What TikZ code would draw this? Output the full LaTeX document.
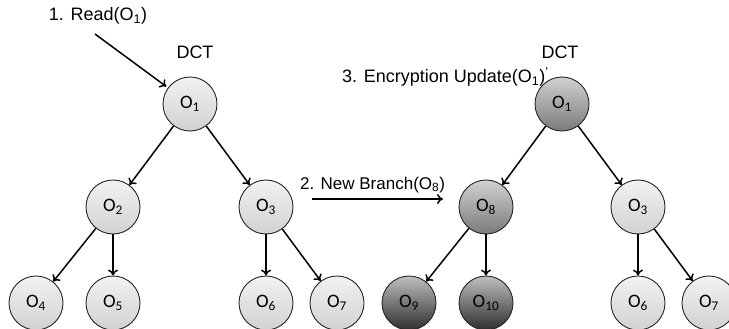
\documentclass[tikz,border=0pt]{standalone}
\usepackage{fontspec}
\setmainfont{Liberation Sans}
\newfontfamily\nodefont{Carlito}
\usetikzlibrary{arrows.meta}
\tikzset{
  obj/.style={circle, draw=black!85, line width=0.9pt, minimum size=54pt, inner sep=0pt,
    font=\nodefont\fontsize{19}{19}\selectfont},
  plain/.style={obj, top color=black!5, bottom color=black!18},
  updated/.style={obj, top color=black!18, bottom color=black!52},
  fresh/.style={obj, top color=black!25, bottom color=black!82},
  link/.style={line width=1.5pt, -{To[length=6pt,width=10pt,line width=1.5pt]}},
  caption/.style={font=\fontsize{18}{18}\selectfont, inner sep=0pt},
}
\begin{document}
\begin{tikzpicture}[x=1pt,y=-1pt]
\useasboundingbox (0,0) rectangle (729,329);

% original tree
\node[plain] (a1) at (190,104) {O\textsubscript{1}};
\node[plain] (a2) at (113,207) {O\textsubscript{2}};
\node[plain] (a3) at (266,207) {O\textsubscript{3}};
\node[plain] (a4) at (36,303) {O\textsubscript{4}};
\node[plain] (a5) at (113,303) {O\textsubscript{5}};
\node[plain] (a6) at (266,303) {O\textsubscript{6}};
\node[plain] (a7) at (337,303) {O\textsubscript{7}};
\node[caption] (dctA) at (195,52) {DCT};

\draw[link] (a1) -- (a2);
\draw[link] (a1) -- (a3);
\draw[link] (a2) -- (a4);
\draw[link] (a2) -- (a5);
\draw[link] (a3) -- (a6);
\draw[link] (a3) -- (a7);

% read request
\node[caption] (readlbl) at (98,16) {1. Read(O\textsubscript{1})};
\coordinate (readfrom) at (95,34);
\draw[link, shorten >=2pt] (readfrom) -- (a1);

% updated tree
\node[updated] (b1) at (562,104) {O\textsubscript{1}};
\node[updated] (b8) at (486,207) {O\textsubscript{8}};
\node[plain] (b3) at (638,207) {O\textsubscript{3}};
\node[fresh] (b9) at (409,303) {O\textsubscript{9}};
\node[fresh] (b10) at (486,303) {O\textsubscript{10}};
\node[plain] (b6) at (638,303) {O\textsubscript{6}};
\node[plain] (b7) at (709,303) {O\textsubscript{7}};
\node[caption] (dctB) at (560,52) {DCT};

\draw[link] (b1) -- (b8);
\draw[link] (b1) -- (b3);
\draw[link] (b8) -- (b9);
\draw[link] (b8) -- (b10);
\draw[link] (b3) -- (b6);
\draw[link] (b3) -- (b7);

% branch step
\node[caption, anchor=west, font=\fontsize{17}{17}\selectfont] (branchlbl) at (300,185) {2. New Branch(O\textsubscript{8})};
\coordinate (brfrom) at (312,199);
\coordinate (brto) at (443,199);
\draw[link] (brfrom) -- (brto);

% encryption update step
\node[caption, anchor=west] (enclbl) at (342,77) {3. Encryption Update(O\textsubscript{1})\textsuperscript{'}};
\end{tikzpicture}
\end{document}
